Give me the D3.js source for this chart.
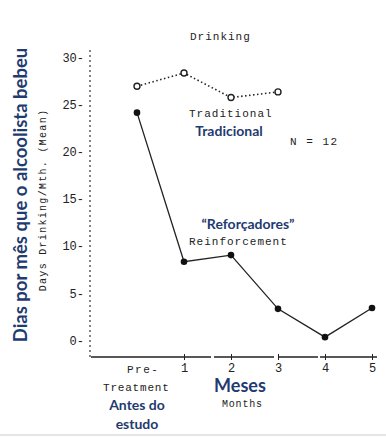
<!DOCTYPE html>
<html>
<head>
<meta charset="utf-8">
<script src="https://cdn.jsdelivr.net/npm/d3@7"></script>
<style>
  body { margin: 0; background: #fff; }
  .mono { font-family: "Liberation Mono", "DejaVu Sans Mono", monospace; fill: #222; }
  .blue { font-family: Lato, "Open Sans", sans-serif; font-weight: bold; fill: #1f3b70; }
</style>
</head>
<body>
<div id="chart"></div>
<script>
// Data.
const months = [0, 1, 2, 3, 4, 5];
const monthLabels = ['', '1', '2', '3', '4', '5'];
const reinforcement = [24.1, 8.3, 9.0, 3.3, 0.3, 3.4];
const traditional = [26.9, 28.3, 25.7, 26.3];
const yTicks = [0, 5, 10, 15, 20, 25, 30];

const width = 386, height = 437;

const svg = d3.select('#chart')
  .append('svg')
  .attr('width', width)
  .attr('height', height);

// Scales.
const xScale = d3.scaleLinear().domain([0, 5]).range([137, 372]);
const yScale = d3.scaleLinear().domain([0, 30]).range([340, 57]);

// Axes lines (typewriter-ish).
svg.append('line')
  .attr('x1', 90).attr('x2', 90)
  .attr('y1', 50).attr('y2', 357)
  .attr('stroke', '#333').attr('stroke-width', 1.2)
  .attr('stroke-dasharray', '2,3');

svg.append('line')
  .attr('x1', 91).attr('x2', 377)
  .attr('y1', 357).attr('y2', 357)
  .attr('stroke', '#222').attr('stroke-width', 1.3)
  .attr('stroke-dasharray', '120,3,60,4,40,2,60');

// Y axis ticks.
const yAxis = d3.axisLeft(yScale)
  .tickValues(yTicks)
  .tickSize(0)
  .tickPadding(0)
  .tickFormat(d => d + '-');
const yAxisDraw = svg.append('g')
  .attr('transform', 'translate(84,0)')
  .call(yAxis);
yAxisDraw.select('.domain').remove();
yAxisDraw.selectAll('text')
  .attr('class', 'mono')
  .style('font-size', '12px')
  .attr('dy', '0.35em');

// X axis ticks.
const xAxis = d3.axisBottom(xScale)
  .tickValues(months)
  .tickSize(6)
  .tickPadding(3)
  .tickFormat((d, i) => monthLabels[i]);
const xAxisDraw = svg.append('g')
  .attr('transform', 'translate(0,354)')
  .call(xAxis);
xAxisDraw.select('.domain').remove();
xAxisDraw.selectAll('line').attr('stroke', '#222').filter(d => d === 0).remove();
xAxisDraw.selectAll('text')
  .attr('class', 'mono')
  .style('font-size', '12px');

// Traditional line (dotted, open circles).
const line = d3.line()
  .x((d, i) => xScale(months[i]))
  .y(d => yScale(d));

svg.append('path')
  .datum(traditional)
  .attr('d', line)
  .attr('fill', 'none')
  .attr('stroke', '#222')
  .attr('stroke-width', 1.6)
  .attr('stroke-dasharray', '1.5,2.5');

svg.selectAll('.trad')
  .data(traditional)
  .join('circle')
  .attr('class', 'trad')
  .attr('cx', (d, i) => xScale(months[i]))
  .attr('cy', d => yScale(d))
  .attr('r', 3)
  .attr('fill', '#fff')
  .attr('stroke', '#222')
  .attr('stroke-width', 1.4);

// Reinforcement line (solid, filled dots).
svg.append('path')
  .datum(reinforcement)
  .attr('d', line)
  .attr('fill', 'none')
  .attr('stroke', '#222')
  .attr('stroke-width', 1.3);

svg.selectAll('.reinf')
  .data(reinforcement)
  .join('circle')
  .attr('class', 'reinf')
  .attr('cx', (d, i) => xScale(months[i]))
  .attr('cy', d => yScale(d))
  .attr('r', 3.3)
  .attr('fill', '#111');

// Texts.
function mono(x, y, txt, size, ls) {
  return svg.append('text')
    .attr('class', 'mono')
    .attr('x', x).attr('y', y)
    .style('font-size', size + 'px')
    .style('letter-spacing', ls + 'px')
    .text(txt);
}
function blue(x, y, txt, size, anchor) {
  return svg.append('text')
    .attr('class', 'blue')
    .attr('x', x).attr('y', y)
    .attr('text-anchor', anchor || 'start')
    .style('font-size', size + 'px')
    .text(txt);
}

mono(190, 40, 'Drinking', 11, 1);
mono(189, 117, 'Traditional', 11, 1);
mono(290, 145, 'N = 12', 11, 1.5);
mono(189, 245, 'Reinforcement', 11, 1);
mono(127, 373, 'Pre-', 11, 1.5);
mono(103, 391, 'Treatment', 11, 0.8);
mono(222, 407, 'Months', 10, 0.8);

blue(229, 136, 'Tradicional', 14, 'middle');
blue(248, 229, '\u201cReforçadores\u201d', 14, 'middle');
blue(137, 410, 'Antes do', 14, 'middle');
blue(137, 429, 'estudo', 14, 'middle');
blue(240, 392, 'Meses', 18, 'middle');

// Rotated axis labels.
svg.append('text')
  .attr('class', 'mono')
  .attr('transform', 'translate(46,200) rotate(-90)')
  .attr('text-anchor', 'middle')
  .style('font-size', '10px')
  .style('letter-spacing', '1.3px')
  .text('Days Drinking/Mth. (Mean)');

svg.append('text')
  .attr('class', 'blue')
  .attr('transform', 'translate(27,195) rotate(-90)')
  .attr('text-anchor', 'middle')
  .style('font-size', '18.5px')
  .text('Dias por mês que o alcoolista bebeu');

// Bottom border.
svg.append('line')
  .attr('x1', 0).attr('x2', width)
  .attr('y1', 435).attr('y2', 435)
  .attr('stroke', '#ccc');
</script>
</body>
</html>
